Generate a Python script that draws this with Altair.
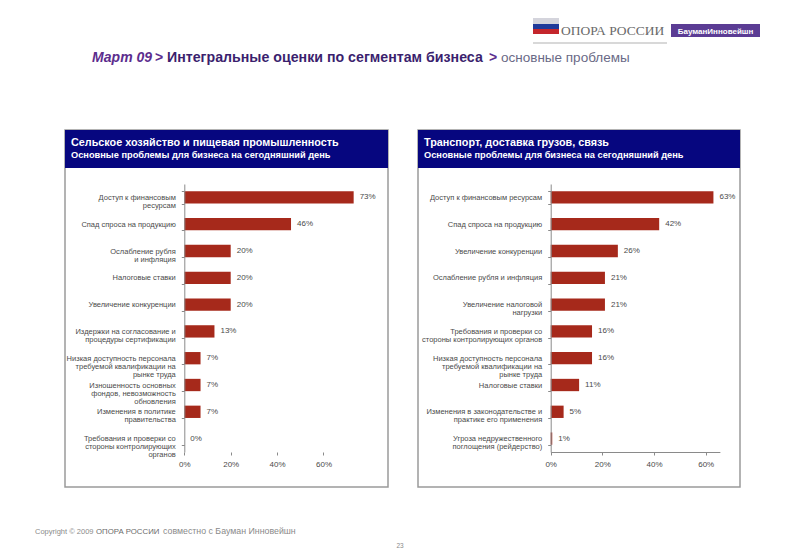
import altair as alt
import pandas as pd

# ---------------- data ----------------
left_title = "Сельское хозяйство и пищевая промышленность"
right_title = "Транспорт, доставка грузов, связь"
panel_subtitle = "Основные проблемы для бизнеса на сегодняшний день"

left_categories = [
    "Доступ к финансовым|ресурсам",
    "Спад спроса на продукцию",
    "Ослабление рубля|и инфляция",
    "Налоговые ставки",
    "Увеличение конкуренции",
    "Издержки на согласование и|процедуры сертификации",
    "Низкая доступность персонала|требуемой квалификации на|рынке труда",
    "Изношенность основных|фондов, невозможность|обновления",
    "Изменения в политике|правительства",
    "Требования и проверки со|стороны контролирующих|органов",
]
left_values = [73, 46, 20, 20, 20, 13, 7, 7, 7, 0]

right_categories = [
    "Доступ к финансовым ресурсам",
    "Спад спроса на продукцию",
    "Увеличение конкуренции",
    "Ослабление рубля и инфляция",
    "Увеличение налоговой|нагрузки",
    "Требования и проверки со|стороны контролирующих органов",
    "Низкая доступность персонала|требуемой квалификации на|рынке труда",
    "Налоговые ставки",
    "Изменения в законодательстве и|практике его применения",
    "Угроза недружественного|поглощения (рейдерство)",
]
right_values = [63, 42, 26, 21, 21, 16, 16, 11, 5, 0.6]

axis_ticks = [0, 20, 40, 60]

headline_parts = ["Март 09", ">", "Интегральные оценки по сегментам бизнеса", ">", "основные проблемы"]
logo_text = "ОПОРА РОССИИ"
logo_box_text = "БауманИнновейшн"
footer_parts = ["Copyright © 2009", "ОПОРА РОССИИ", "совместно с Бауман Инновейшн"]
page_number = "23"

# ---------------- layout helpers ----------------
W, H = 784, 546
M = 8  # page margin


def px(x):
    return x - M


def py(y):
    return y - M


FONT = "Liberation Sans"
BAR = "#a6291b"
NAVY = "#06067f"
FRAME = "#9a9a9a"
LABEL = "#4a4a4a"

one = pd.DataFrame({"a": [0]})


def rect(x1, y1, x2, y2, **kw):
    return alt.Chart(one).mark_rect(**kw).encode(
        x=alt.value(px(x1)), x2=alt.value(px(x2)),
        y=alt.value(py(y1)), y2=alt.value(py(y2)))


def label(txt, x, y, **kw):
    kw.setdefault("font", FONT)
    kw.setdefault("baseline", "alphabetic")
    kw.setdefault("align", "left")
    return alt.Chart(pd.DataFrame({"t": [txt]})).mark_text(**kw).encode(
        x=alt.value(px(x)), y=alt.value(py(y)), text="t:N")


BAND_TOP, BAND_BOTTOM = 184, 452


def panel(cats, vals, x0, px_per_pct, dom_max, show_domain):
    df = pd.DataFrame({"cat": cats, "val": vals})
    df["lab"] = [f"{round(v)}%" for v in vals]
    yscale = alt.Scale(domain=cats, range=[py(BAND_TOP), py(BAND_BOTTOM)],
                       paddingInner=0.54, paddingOuter=0.27)
    xscale = alt.Scale(domain=[0, dom_max], range=[px(x0), px(x0) + px_per_pct * dom_max],
                       nice=False, zero=True)
    yaxis = alt.Axis(orient="left", offset=-px(x0), title=None,
                     labelExpr="split(datum.label, '|')",
                     labelFont=FONT, labelFontSize=7.5, labelColor=LABEL,
                     labelLineHeight=8.2, labelPadding=6, labelLimit=300,
                     tickBand="extent", tickSize=3, tickColor="#8a8a8a", zindex=1,
                     domainColor="#8a8a8a", domainWidth=1, grid=False)
    xaxis = alt.Axis(orient="bottom", offset=-(H - py(BAND_BOTTOM)), title=None,
                     values=axis_ticks, labelExpr="datum.value + '%'",
                     domain=show_domain, domainColor="#8a8a8a",
                     tickSize=3, tickColor="#8a8a8a", zindex=1,
                     labelFont=FONT, labelFontSize=8, labelColor=LABEL,
                     labelPadding=5, labelFlush=False, grid=False)
    base = alt.Chart(df)
    bars = base.mark_bar(color=BAR).encode(
        y=alt.Y("cat:N", sort=cats, scale=yscale, axis=yaxis),
        x=alt.X("val:Q", scale=xscale, axis=xaxis),
    )
    text = base.mark_text(align="left", baseline="middle", dx=6, font=FONT,
                          fontSize=8, color=LABEL).encode(
        y=alt.Y("cat:N", sort=cats, scale=yscale, axis=None),
        x=alt.X("val:Q", scale=xscale, axis=None),
        text="lab:N",
    )
    return [bars, text]


left_layers = panel(left_categories, left_values, 184.3, 2.32, 80, False)
right_layers = panel(right_categories, right_values, 550.7, 2.583, 65.5, True)

decor = [
    # panel frames
    rect(65, 130, 388, 487, fillOpacity=0, stroke=FRAME, strokeWidth=1.5),
    rect(418, 130, 740, 487, fillOpacity=0, stroke=FRAME, strokeWidth=1.5),
    # headers
    rect(65, 130, 388, 168, color=NAVY),
    rect(418, 130, 740, 168, color=NAVY),
    label(left_title, 71, 145.5, fontSize=10.8, fontWeight="bold", color="white"),
    label(panel_subtitle, 71, 157.5, fontSize=9.25, fontWeight="bold", color="white"),
    label(right_title, 424, 145.5, fontSize=10.8, fontWeight="bold", color="white"),
    label(panel_subtitle, 424, 157.5, fontSize=9.25, fontWeight="bold", color="white"),
    # headline
    label(headline_parts[0], 92, 62, fontSize=14, fontStyle="italic", fontWeight="bold", color="#5c2d8e"),
    label(headline_parts[1], 155, 62, fontSize=14, fontWeight="bold", color="#5c2d8e"),
    label(headline_parts[2], 167, 62, fontSize=14.2, fontWeight="bold", color="#3b1f6e"),
    label(headline_parts[3], 489, 62, fontSize=14, fontWeight="bold", color="#5c2d8e"),
    label(headline_parts[4], 501, 62, fontSize=13.5, color="#6a6a86"),
    # logo
    rect(533, 18, 559, 24, color="#d4d4dc"),
    rect(533, 24, 559, 29, color="#1f3a9a"),
    rect(533, 29, 559, 34, color="#c4262c"),
    label(logo_text, 561, 35, fontSize=13.5, font="Liberation Serif", color="#6a6a6a"),
    rect(671, 24, 760, 37, color="#5b3c94"),
    label(logo_box_text, 715.5, 33.5, fontSize=8, fontWeight="bold", color="white", align="center"),
    rect(533, 42, 667, 44, color="#d8d8d8"),
    # footer
    label(footer_parts[0], 35, 534, fontSize=7.5, color="#8a8a8a"),
    label(footer_parts[1], 96, 534, fontSize=7.8, color="#6a6a6a"),
    label(footer_parts[2], 163, 534, fontSize=8.8, color="#8a8a8a"),
    label(page_number, 400, 548, fontSize=6.5, color="#8a8a8a", align="center"),
]

chart = alt.layer(*decor, *left_layers, *right_layers).resolve_scale(
    x="independent", y="independent"
).properties(
    width=W, height=H, padding=0,
    autosize=alt.AutoSizeParams(type="none"),
    background="white",
).configure_view(stroke=None)

chart.save("out.html", embed_options={"renderer": "svg", "actions": False})
